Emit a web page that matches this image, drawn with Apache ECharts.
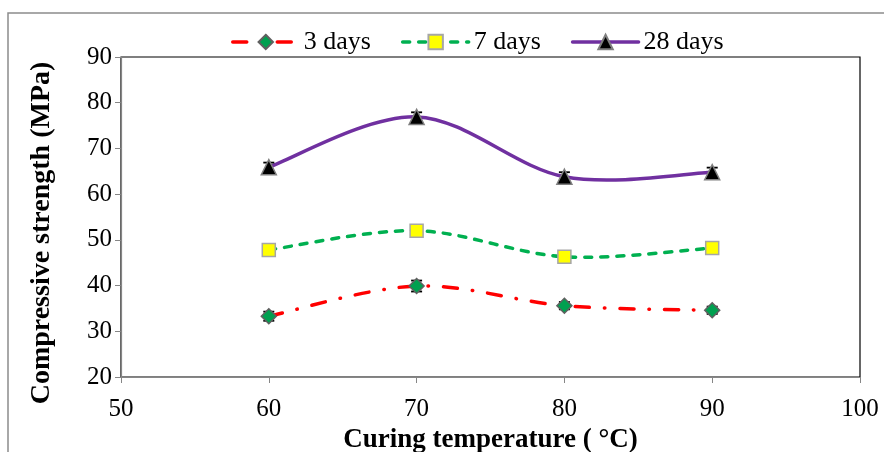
<!DOCTYPE html>
<html>
<head>
<meta charset="utf-8">
<script src="https://cdn.jsdelivr.net/npm/echarts@6/dist/echarts.min.js"></script>
<style>
  html, body { margin: 0; padding: 0; background: #fff; }
  #chart { width: 884px; height: 452px; }
</style>
</head>
<body>
<div id="chart"></div>
<script>
// curing temperature (°C)
const temps = [60, 70, 80, 90]
// compressive strength (MPa)
const days3 = [33.3, 39.9, 35.6, 34.6]
const days7 = [47.8, 52.0, 46.3, 48.2]
const days28 = [65.9, 76.9, 63.8, 64.8]
// error bar half widths
const err3 = [1.0, 1.2, 0.8, 0.8]
const err7 = [0.8, 0.8, 0.8, 0.8]
const err28 = [1.0, 1.0, 1.0, 1.0]

const font = '"Liberation Serif", "Times New Roman", serif'

const red = { color:'#ff0000', width:3.5, type:[14,15,0.5,15], cap:'round' }
const green = { color:'#00b050', width:3.5, type:[7,9], cap:'round' }
const purple = { color:'#7030a0', width:3.5, type:'solid', cap:'round' }

function pairs(vals){
  return temps.map((t,i)=>[t, vals[i]])
}

// smoothed curve like excel (catmull-rom style bezier through the points)
function curveSeries(vals, ls){
  return {
    type:'custom',
    silent:true,
    z:2,
    renderItem:function(params, api){
      if(params.dataIndex !== 0) return null
      const pts = temps.map((t,i)=>api.coord([t, vals[i]]))
      let d = 'M' + pts[0][0] + ' ' + pts[0][1]
      for(let i=0;i<pts.length-1;i++){
        const p0 = pts[i-1] || pts[i]
        const p1 = pts[i]
        const p2 = pts[i+1]
        const p3 = pts[i+2] || pts[i+1]
        const c1 = [p1[0]+(p2[0]-p0[0])/6, p1[1]+(p2[1]-p0[1])/6]
        const c2 = [p2[0]-(p3[0]-p1[0])/6, p2[1]-(p3[1]-p1[1])/6]
        d += ' C' + c1[0] + ' ' + c1[1] + ' ' + c2[0] + ' ' + c2[1] + ' ' + p2[0] + ' ' + p2[1]
      }
      return {
        type:'path',
        shape:{ pathData:d },
        style:{
          fill:'none',
          stroke:ls.color,
          lineWidth:ls.width,
          lineDash:Array.isArray(ls.type) ? ls.type : null,
          lineCap:ls.cap
        }
      }
    },
    data:pairs(vals)
  }
}

function errSeries(vals, errs){
  return {
    type:'custom',
    silent:true,
    z:3,
    renderItem:function(params, api){
      const x = api.value(0)
      const lo = api.coord([x, api.value(1)])
      const hi = api.coord([x, api.value(2)])
      const w = 5.5
      const st = { stroke:'#000', lineWidth:1.8 }
      return {
        type:'group',
        children:[
          { type:'line', shape:{ x1:lo[0], y1:lo[1], x2:hi[0], y2:hi[1] }, style:st },
          { type:'line', shape:{ x1:hi[0]-w, y1:hi[1], x2:hi[0]+w, y2:hi[1] }, style:st },
          { type:'line', shape:{ x1:lo[0]-w, y1:lo[1], x2:lo[0]+w, y2:lo[1] }, style:st }
        ]
      }
    },
    data:temps.map((t,i)=>[t, vals[i]-errs[i], vals[i]+errs[i]])
  }
}

const myChart = echarts.init(document.getElementById('chart'))

const option = {
  animation:false,
  backgroundColor:'#fff',
  graphic:[
    {
      type:'rect',
      shape:{ x:8, y:13, width:1000, height:600 },
      style:{ fill:'none', stroke:'#8c8c8c', lineWidth:1.5 },
      silent:true,
      z:-10
    }
  ],
  legend:{
    top:24,
    left:226,
    itemWidth:66,
    itemHeight:18,
    itemGap:30,
    textStyle:{ fontFamily:font, fontSize:26, color:'#000' },
    data:[
      { name:'3 days', lineStyle:Object.assign({ opacity:1 }, red) },
      { name:'7 days', lineStyle:Object.assign({ opacity:1 }, green) },
      { name:'28 days', lineStyle:Object.assign({ opacity:1 }, purple) }
    ]
  },
  grid:{
    left:121,
    right:24,
    top:57,
    bottom:75,
    outerBoundsMode:'none',
    containLabel:false,
    show:true,
    borderColor:'#000',
    borderWidth:1.2
  },
  xAxis:{
    type:'value',
    min:50,
    max:100,
    interval:10,
    name:'Curing temperature ( °C)',
    nameLocation:'middle',
    nameGap:47,
    nameTextStyle:{ fontFamily:font, fontSize:27, fontWeight:'bold', color:'#000' },
    axisLine:{ lineStyle:{ color:'#868686', width:1.2 } },
    axisTick:{ show:true, length:6, lineStyle:{ color:'#868686' } },
    axisLabel:{ fontFamily:font, fontSize:25, color:'#000', margin:20 },
    splitLine:{ show:false }
  },
  yAxis:{
    type:'value',
    min:20,
    max:90,
    interval:10,
    name:'Compressive strength (MPa)',
    nameLocation:'middle',
    nameGap:65,
    nameTextStyle:{ fontFamily:font, fontSize:28, fontWeight:'bold', color:'#000', padding:[0,32,0,0] },
    axisLine:{ show:true, lineStyle:{ color:'#868686', width:1.2 } },
    axisTick:{ show:true, length:6, lineStyle:{ color:'#868686' } },
    axisLabel:{ fontFamily:font, fontSize:25, color:'#000', margin:9 },
    splitLine:{ show:false }
  },
  series:[
    curveSeries(days3, red),
    curveSeries(days7, green),
    curveSeries(days28, purple),
    errSeries(days3, err3),
    errSeries(days7, err7),
    errSeries(days28, err28),
    {
      name:'3 days',
      type:'line',
      z:4,
      symbol:'diamond',
      symbolSize:15,
      lineStyle:Object.assign({}, red, { opacity:0 }),
      itemStyle:{ color:'#00a050', borderColor:'#606060', borderWidth:1.5 },
      data:pairs(days3)
    },
    {
      name:'7 days',
      type:'line',
      z:4,
      symbol:'rect',
      symbolSize:13,
      lineStyle:Object.assign({}, green, { opacity:0 }),
      itemStyle:{ color:'#ffff00', borderColor:'#a6a6a6', borderWidth:1.5 },
      data:pairs(days7)
    },
    {
      name:'28 days',
      type:'line',
      z:4,
      symbol:'triangle',
      symbolSize:15,
      lineStyle:Object.assign({}, purple, { opacity:0 }),
      itemStyle:{ color:'#000', borderColor:'#7f7f7f', borderWidth:1.5 },
      data:pairs(days28)
    }
  ]
}

myChart.setOption(option)
</script>
</body>
</html>
